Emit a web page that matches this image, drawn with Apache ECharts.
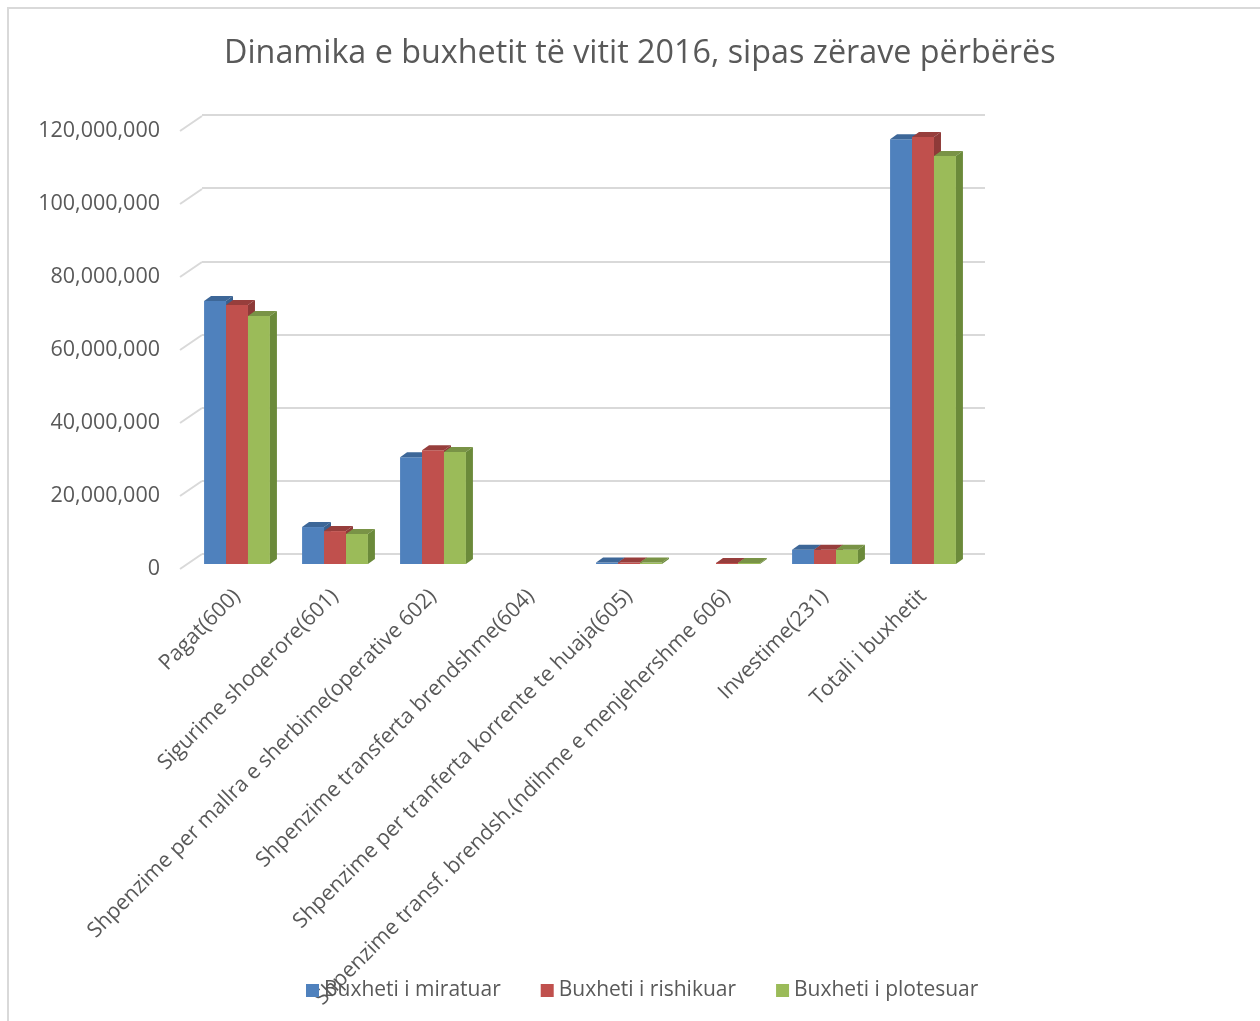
<!DOCTYPE html>
<html>
<head>
<meta charset="utf-8">
<script src="https://cdn.jsdelivr.net/npm/echarts@6/dist/echarts.min.js"></script>
<style>
  html, body { margin: 0; padding: 0; background: #fff; }
  #chart { width: 1260px; height: 1021px; }
</style>
</head>
<body>
<div id="chart"></div>
<script>
// te dhenat e grafikut
const categories = [
  'Pagat(600)',
  'Sigurime shoqerore(601)',
  'Shpenzime per mallra e sherbime(operative 602)',
  'Shpenzime transferta brendshme(604)',
  'Shpenzime per tranferta korrente te huaja(605)',
  'Shpenzime transf. brendsh.(ndihme e menjehershme 606)',
  'Investime(231)',
  'Totali i buxhetit'
];
const miratuar  = [71900000, 10100000, 29200000, 0, 400000, 0,      3900000, 116100000];
const rishikuar = [70800000, 9000000,  31100000, 0, 400000, 300000, 3900000, 116700000];
const plotesuar = [67800000, 8200000,  30600000, 0, 400000, 300000, 3900000, 111500000];
const seriesNames = ['Buxheti i miratuar', 'Buxheti i rishikuar', 'Buxheti i plotesuar'];
const yTicks = [0, 20000000, 40000000, 60000000, 80000000, 100000000, 120000000];

const FONT = '"Open Sans", "Noto Sans", sans-serif';
const TXT = '#595959';
const GRIDC = '#d9d9d9';

// ngjyrat: faqja perpara, siper, anesore
const colors = [
  { front: '#4F81BD', top: '#3D6798', side: '#38608F' },
  { front: '#C0504D', top: '#973E3C', side: '#8E3A38' },
  { front: '#9BBB59', top: '#799346', side: '#6B8A3A' }
];
const DX = 7, DY = 5;

function barSeries(i, data) {
  return {
    name: seriesNames[i],
    type: 'custom',
    xAxisIndex: 0,
    yAxisIndex: 0,
    itemStyle: { color: colors[i].front },
    data: data.map((v, k) => [k, v]),
    renderItem: function (params, api) {
      const v = api.value(1);
      if (!v) return null;
      const base = api.coord([api.value(0), 0]);
      const topP = api.coord([api.value(0), v]);
      const catW = api.size([1, 0])[0];
      const bw = catW * 0.224;
      const x0 = base[0] - 1.5 * bw + i * bw;
      const y0 = base[1];
      const yt = topP[1];
      const c = colors[i];
      return {
        type: 'group',
        children: [
          { type: 'rect', shape: { x: x0, y: yt, width: bw, height: y0 - yt },
            style: { fill: c.front } },
          { type: 'polygon', shape: { points: [[x0, yt], [x0 + bw, yt], [x0 + bw + DX, yt - DY], [x0 + DX, yt - DY]] },
            style: { fill: c.top } },
          { type: 'polygon', shape: { points: [[x0 + bw, yt], [x0 + bw + DX, yt - DY], [x0 + bw + DX, y0 - DY], [x0 + bw, y0]] },
            style: { fill: c.side } }
        ]
      };
    }
  };
}

const chart = echarts.init(document.getElementById('chart'));
const option = {
  backgroundColor: '#fff',
  animation: false,
  textStyle: { fontFamily: FONT },
  title: {
    text: 'Dinamika e buxhetit të vitit 2016, sipas zërave përbërës',
    left: 219,
    top: 33,
    textStyle: { fontFamily: FONT, fontSize: 32.3, fontWeight: 'normal', color: TXT }
  },
  legend: {
    data: seriesNames,
    left: 301,
    top: 975,
    icon: 'rect',
    itemWidth: 13,
    itemHeight: 13,
    itemGap: 40,
    textStyle: { fontFamily: FONT, fontSize: 21, color: TXT }
  },
  graphic: [{
    type: 'rect',
    shape: { x: 8, y: 8, width: 1300, height: 1100 },
    style: { fill: 'none', stroke: GRIDC, lineWidth: 2 },
    silent: true
  }],
  grid: [
    { left: 188, right: 288, top: 125, bottom: 457 },   // shtylla (faqja perpara)
    { left: 180, right: 275, top: 131, bottom: 452 },   // etiketat e boshtit y
    { left: 202, right: 275, top: 115, bottom: 467 }    // vijat e pasme
  ],
  xAxis: [
    {
      type: 'category', gridIndex: 0, data: categories,
      axisLine: { show: false }, axisTick: { show: false },
      axisLabel: { interval: 0, rotate: 45, margin: 29, fontFamily: FONT, fontSize: 21.3, color: TXT }
    },
    { type: 'value', gridIndex: 1, min: 0, max: 1, show: false },
    { type: 'value', gridIndex: 2, min: 0, max: 1, show: false }
  ],
  yAxis: [
    { type: 'value', gridIndex: 0, min: 0, max: 120000000, interval: 20000000, show: false },
    {
      type: 'value', gridIndex: 1, min: 0, max: 120000000, interval: 20000000,
      axisLine: { show: false }, axisTick: { show: false }, splitLine: { show: false },
      axisLabel: {
        margin: 20, fontFamily: FONT, fontSize: 21.5, color: TXT,
        formatter: v => v.toLocaleString('en-US')
      }
    },
    {
      type: 'value', gridIndex: 2, min: 0, max: 120000000, interval: 20000000,
      axisLine: { show: false }, axisTick: { show: false }, axisLabel: { show: false },
      splitLine: { lineStyle: { color: GRIDC, width: 2 } }
    }
  ],
  series: [
    {
      // vijat diagonale te boshtit
      type: 'custom', xAxisIndex: 1, yAxisIndex: 1, silent: true, z: 1,
      data: yTicks.map(v => [0, v]),
      renderItem: function (params, api) {
        const p = api.coord([0, api.value(1)]);
        return { type: 'line', shape: { x1: p[0], y1: p[1], x2: p[0] + 22, y2: p[1] - 15 },
                 style: { stroke: GRIDC, lineWidth: 2 } };
      }
    },
    barSeries(0, miratuar),
    barSeries(1, rishikuar),
    barSeries(2, plotesuar)
  ]
};
chart.setOption(option);
window.onresize = function () { chart.resize(); };
</script>
</body>
</html>
